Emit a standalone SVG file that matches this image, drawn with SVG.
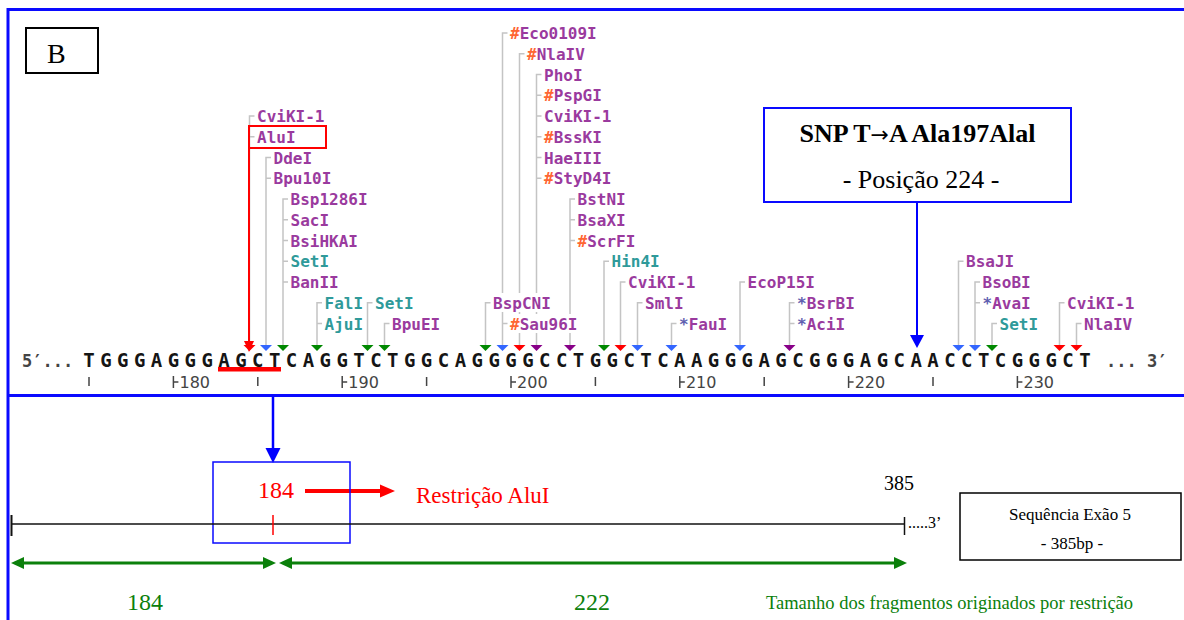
<svg xmlns="http://www.w3.org/2000/svg" width="1184" height="620" viewBox="0 0 1184 620">
<defs>
<style>
.lbl{font-family:"DejaVu Sans Mono",monospace;font-size:16px;font-weight:bold;fill:#9a3a9e}
.teal{fill:#2f9a9a}
.hash{fill:#ff6633}
.star{fill:#6060b0}
.conn{fill:none;stroke:#c4c4c4;stroke-width:1.5}
.r{fill:#ff0000}.b{fill:#3366ff}.g{fill:#008800}.p{fill:#880088}
.seq{font-family:"DejaVu Sans Mono",monospace;font-weight:bold;font-size:19px;fill:#151515}
.end{font-family:"DejaVu Sans Mono",monospace;font-weight:bold;font-size:17px;fill:#444}
.num{font-family:"DejaVu Sans",sans-serif;font-size:16px;fill:#444}
.tick{stroke:#444;stroke-width:1.5}
.serif{font-family:"Liberation Serif","Times New Roman",serif}
</style>
</defs>
<rect width="1184" height="620" fill="#fff"/>

<g id="frame" fill="none" stroke="#0a0aff" stroke-width="3">
<path d="M1184,9.5H8V620"/>
<path d="M8,395.5H1184"/>
</g>

<g id="label-B">
<rect x="26" y="28" width="72" height="45" fill="#fff" stroke="#000" stroke-width="2"/>
<text class="serif" x="47" y="63" font-size="28">B</text>
</g>

<g id="connectors">
<g class="conn">
<path d="M254.5,116H249.5V345M249.5,136.75H254.5"/>
<path d="M271,157.5H266V345M266,178.25H271"/>
<path d="M288,199H283V345M283,219.75H288M283,240.5H288M283,261.25H288M283,282H288"/>
<path d="M322,302.75H317V345M317,323.5H322"/>
<path d="M372.5,302.75H367.5V345"/>
<path d="M389.5,323.5H384.5V345"/>
<path d="M490.5,302.75H485.5V345"/>
<path d="M507.5,33H502.5V345M502.5,323.5H507.5"/>
<path d="M524.5,53.75H519.5V345"/>
<path d="M541.5,74.5H536.5V345M536.5,95.25H541.5M536.5,116H541.5M536.5,136.75H541.5M536.5,157.5H541.5M536.5,178.25H541.5"/>
<path d="M575,199H570V345M570,219.75H575M570,240.5H575"/>
<path d="M609,261.25H604V345"/>
<path d="M625.5,282H620.5V345"/>
<path d="M642.5,302.75H637.5V345"/>
<path d="M676.5,323.5H671.5V345"/>
<path d="M745,282H740V345"/>
<path d="M794.5,302.75H789.5V345M789.5,323.5H794.5"/>
<path d="M963.5,261.25H958.5V345"/>
<path d="M980,282H975V345M975,302.75H980"/>
<path d="M997,323.5H992V345"/>
<path d="M1064.5,302.75H1059.5V345"/>
<path d="M1081.5,323.5H1076.5V345"/>
</g>
<g id="markers">
<polygon class="r" points="243.5,345 255.5,345 249.5,351"/>
<polygon class="b" points="260,345 272,345 266,351"/>
<polygon class="g" points="277,345 289,345 283,351"/>
<polygon class="g" points="311,345 323,345 317,351"/>
<polygon class="g" points="361.5,345 373.5,345 367.5,351"/>
<polygon class="g" points="378.5,345 390.5,345 384.5,351"/>
<polygon class="g" points="479.5,345 491.5,345 485.5,351"/>
<polygon class="b" points="496.5,345 508.5,345 502.5,351"/>
<polygon class="r" points="513.5,345 525.5,345 519.5,351"/>
<polygon class="p" points="530.5,345 542.5,345 536.5,351"/>
<polygon class="p" points="564,345 576,345 570,351"/>
<polygon class="g" points="598,345 610,345 604,351"/>
<polygon class="r" points="614.5,345 626.5,345 620.5,351"/>
<polygon class="b" points="631.5,345 643.5,345 637.5,351"/>
<polygon class="b" points="665.5,345 677.5,345 671.5,351"/>
<polygon class="b" points="734,345 746,345 740,351"/>
<polygon class="p" points="783.5,345 795.5,345 789.5,351"/>
<polygon class="b" points="952.5,345 964.5,345 958.5,351"/>
<polygon class="b" points="969,345 981,345 975,351"/>
<polygon class="g" points="986,345 998,345 992,351"/>
<polygon class="r" points="1053.5,345 1065.5,345 1059.5,351"/>
<polygon class="r" points="1070.5,345 1082.5,345 1076.5,351"/>
</g>
<g id="alui-arrow">
<rect x="249" y="126" width="77" height="22" fill="none" stroke="#ff0000" stroke-width="2"/>
<line x1="249" y1="148" x2="249" y2="343" stroke="#ff0000" stroke-width="2"/>
<polygon points="244,341 254,341 249,352" fill="#ff0000"/>
</g>
<g id="snp-arrow">
<line x1="917" y1="202" x2="917" y2="336" stroke="#0000ff" stroke-width="2"/>
<polygon points="910,335 924,335 917,348" fill="#0000ff"/>
</g>
<g id="cut-arrow">
<line x1="273" y1="397" x2="273" y2="450" stroke="#0000ff" stroke-width="2.5"/>
<polygon points="265.5,448 280.5,448 273,463" fill="#0000ff"/>
</g>
<g id="red-arrow">
<line x1="305" y1="491" x2="382" y2="491" stroke="#ff0000" stroke-width="4"/>
<polygon points="380,484.5 395,491 380,497.5" fill="#ff0000"/>
</g>
<g id="frag-arrows" stroke="#0b800b" stroke-width="3" fill="#0b800b">
<line x1="22" y1="563" x2="265" y2="563"/>
<polygon stroke="none" points="11,563 24,557 24,569"/>
<polygon stroke="none" points="276,563 263,557 263,569"/>
<line x1="290" y1="563" x2="896" y2="563"/>
<polygon stroke="none" points="279,563 292,557 292,569"/>
<polygon stroke="none" points="907,563 894,557 894,569"/>
</g>
</g>

<g id="enzyme-labels">
<g id="g1"><text class="lbl" x="257" y="122">CviKI-1</text><text class="lbl" x="257" y="142.75">AluI</text></g>
<g id="g2"><text class="lbl" x="273.5" y="163.5">DdeI</text><text class="lbl" x="273.5" y="184.25">Bpu10I</text></g>
<g id="g3">
<text class="lbl" x="290.5" y="205">Bsp1286I</text>
<text class="lbl" x="290.5" y="225.75">SacI</text>
<text class="lbl" x="290.5" y="246.5">BsiHKAI</text>
<text class="lbl teal" x="290.5" y="267.25">SetI</text>
<text class="lbl" x="290.5" y="288">BanII</text>
</g>
<g id="g4"><text class="lbl teal" x="324.5" y="308.75">FalI</text><text class="lbl teal" x="324.5" y="329.5">AjuI</text></g>
<g id="g5"><text class="lbl teal" x="375" y="308.75">SetI</text></g>
<g id="g6"><text class="lbl" x="392" y="329.5">BpuEI</text></g>
<g id="g7"><rect x="492" y="293" width="60" height="19" fill="#fff"/><text class="lbl" x="493" y="308.75">BspCNI</text></g>
<g id="g8">
<text class="lbl" x="510" y="39"><tspan class="hash">#</tspan>Eco0109I</text>
<rect x="509.5" y="314" width="69" height="19" fill="#fff"/>
<text class="lbl" x="510" y="329.5"><tspan class="hash">#</tspan>Sau96I</text>
</g>
<g id="g9"><text class="lbl" x="527" y="59.75"><tspan class="hash">#</tspan>NlaIV</text></g>
<g id="g10">
<text class="lbl" x="544" y="80.5">PhoI</text>
<text class="lbl" x="544" y="101.25"><tspan class="hash">#</tspan>PspGI</text>
<text class="lbl" x="544" y="122">CviKI-1</text>
<text class="lbl" x="544" y="142.75"><tspan class="hash">#</tspan>BssKI</text>
<text class="lbl" x="544" y="163.5">HaeIII</text>
<text class="lbl" x="544" y="184.25"><tspan class="hash">#</tspan>StyD4I</text>
</g>
<g id="g11">
<text class="lbl" x="577.5" y="205">BstNI</text>
<text class="lbl" x="577.5" y="225.75">BsaXI</text>
<text class="lbl" x="577.5" y="246.5"><tspan class="hash">#</tspan>ScrFI</text>
</g>
<g id="g12"><text class="lbl teal" x="611.5" y="267.25">Hin4I</text></g>
<g id="g13"><text class="lbl" x="628" y="288">CviKI-1</text></g>
<g id="g14"><text class="lbl" x="645" y="308.75">SmlI</text></g>
<g id="g15"><text class="lbl" x="679" y="329.5"><tspan class="star">*</tspan>FauI</text></g>
<g id="g16"><text class="lbl" x="747.5" y="288">EcoP15I</text></g>
<g id="g17"><text class="lbl" x="797" y="308.75"><tspan class="star">*</tspan>BsrBI</text><text class="lbl" x="797" y="329.5"><tspan class="star">*</tspan>AciI</text></g>
<g id="g18"><text class="lbl" x="966" y="267.25">BsaJI</text></g>
<g id="g19"><text class="lbl" x="982.5" y="288">BsoBI</text><text class="lbl" x="982.5" y="308.75"><tspan class="star">*</tspan>AvaI</text></g>
<g id="g20"><text class="lbl teal" x="999.5" y="329.5">SetI</text></g>
<g id="g21"><text class="lbl" x="1067" y="308.75">CviKI-1</text></g>
<g id="g22"><text class="lbl" x="1084" y="329.5">NlaIV</text></g>
</g>

<g id="sequence">
<text class="end" x="22" y="367">5′...</text>
<text class="seq" y="367" text-anchor="middle" x="89 105.88 122.76 139.64 156.52 173.4 190.28 207.16 224.04 240.92 257.8 274.68 291.56 308.44 325.32 342.2 359.08 375.96 392.84 409.72 426.6 443.48 460.36 477.24 494.12 511 527.88 544.76 561.64 578.52 595.4 612.28 629.16 646.04 662.92 679.8 696.68 713.56 730.44 747.32 764.2 781.08 797.96 814.84 831.72 848.6 865.48 882.36 899.24 916.12 933 949.88 966.76 983.64 1000.52 1017.4 1034.28 1051.16 1068.04 1084.92">TGGGAGGGAGCTCAGGTCTGGCAGGGGCCTGGCTCAAGGGAGCGGGAGCAACCTCGGGCT</text>
<text class="end" x="1106" y="367">... 3′</text>
<rect x="218" y="367" width="63" height="4.5" fill="#ff0000"/>
</g>

<g id="ruler">
<g class="tick">
<path d="M89,377V386M257.8,377V386M426.6,377V386M595.4,377V386M764.2,377V386M933,377V386"/>
<path d="M173.4,376V388M173.4,382H178.4M342.2,376V388M342.2,382H347.2M511,376V388M511,382H516M679.8,376V388M679.8,382H684.8M848.6,376V388M848.6,382H853.6M1017.4,376V388M1017.4,382H1022.4"/>
</g>
<text class="num" x="179.5" y="388">180</text>
<text class="num" x="348.3" y="388">190</text>
<text class="num" x="517.1" y="388">200</text>
<text class="num" x="685.9" y="388">210</text>
<text class="num" x="854.7" y="388">220</text>
<text class="num" x="1023.5" y="388">230</text>
</g>

<g id="snp-box">
<rect x="764" y="108" width="307" height="94" fill="#fff" stroke="#0a0aff" stroke-width="2"/>
<text class="serif" x="917.5" y="142" font-size="26" font-weight="bold" text-anchor="middle">SNP T<tspan font-family="DejaVu Sans, sans-serif" font-weight="normal" font-size="22">→</tspan>A Ala197Alal</text>
<text class="serif" x="921" y="188" font-size="26" text-anchor="middle">- Posição 224 -</text>
</g>

<g id="cut-box">
<rect x="213" y="462" width="137" height="81" fill="none" stroke="#0a0aff" stroke-width="1.5"/>
<text class="serif" x="258" y="498" font-size="24" fill="#ff0000">184</text>
</g>

<g id="restriction-label">
<text class="serif" x="416" y="503" font-size="23" fill="#ff0000">Restrição AluI</text>
</g>

<g id="exon-line">
<line x1="11" y1="524" x2="904" y2="524" stroke="#111" stroke-width="1.5"/>
<line x1="11.5" y1="515" x2="11.5" y2="536" stroke="#111" stroke-width="2"/>
<line x1="904.5" y1="517" x2="904.5" y2="535" stroke="#111" stroke-width="1.5"/>
<line x1="273" y1="515" x2="273" y2="535" stroke="#ff0000" stroke-width="1.5"/>
<text class="serif" x="884" y="490" font-size="20" fill="#000">385</text>
<text class="serif" x="908" y="528" font-size="16" fill="#000">.....3’</text>
</g>

<g id="exon-box">
<rect x="960" y="493" width="221" height="67" fill="#fff" stroke="#000" stroke-width="1.5"/>
<text class="serif" x="1070" y="520" font-size="17" text-anchor="middle">Sequência Exão 5</text>
<text class="serif" x="1072" y="549" font-size="17" text-anchor="middle">- 385bp -</text>
</g>

<g id="fragment-labels" class="serif" fill="#0b800b">
<text x="127" y="610" font-size="24">184</text>
<text x="574" y="610" font-size="24">222</text>
<text x="766" y="609" font-size="18.5">Tamanho dos fragmentos originados por restrição</text>
</g>
</svg>
